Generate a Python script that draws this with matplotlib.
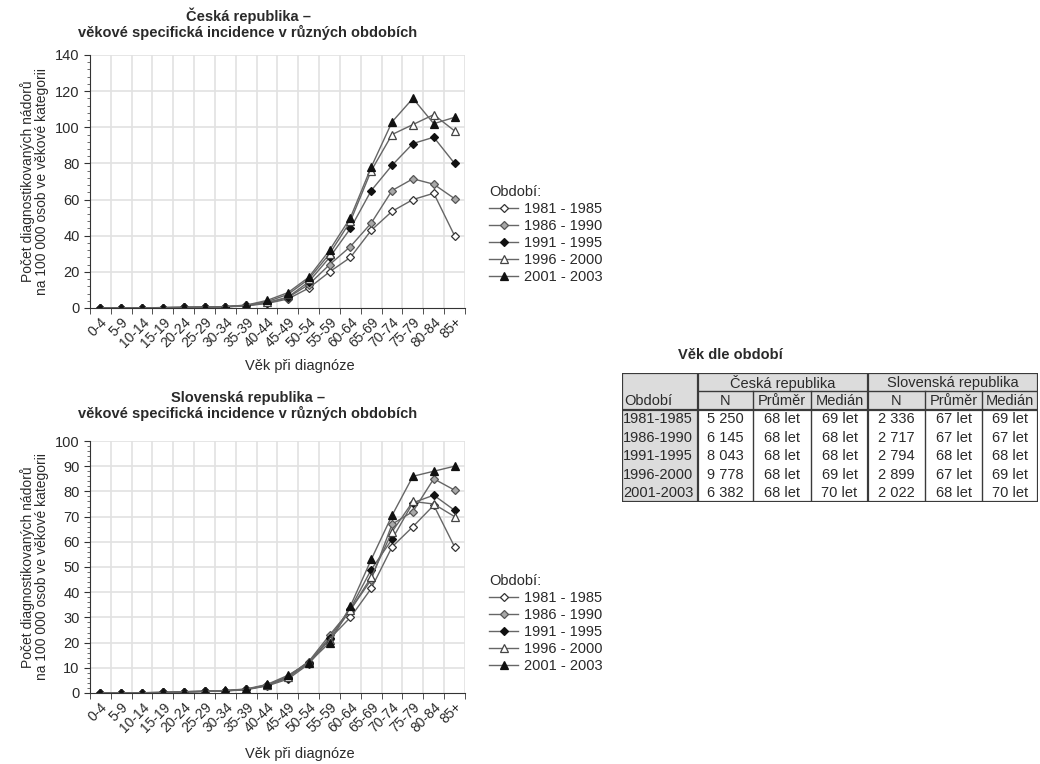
import matplotlib
matplotlib.use('Agg')
import matplotlib.pyplot as plt
from matplotlib.patches import Rectangle
import numpy as np

plt.rcParams['font.family'] = ['Liberation Sans', 'DejaVu Sans']

ages = ['0-4', '5-9', '10-14', '15-19', '20-24', '25-29', '30-34', '35-39', '40-44',
        '45-49', '50-54', '55-59', '60-64', '65-69', '70-74', '75-79', '80-84', '85+']
periods = ['1981 - 1985', '1986 - 1990', '1991 - 1995', '1996 - 2000', '2001 - 2003']

# Česká republika
cz_1981 = [0.1, 0.1, 0.1, 0.2, 0.3, 0.4, 0.6, 1.2, 2.5, 5.0, 11.0, 20.0, 28.0, 43.0, 53.5, 60.0, 63.5, 40.0]
cz_1986 = [0.1, 0.1, 0.1, 0.2, 0.3, 0.5, 0.7, 1.3, 2.8, 5.8, 13.0, 24.0, 34.0, 47.0, 65.0, 71.5, 68.5, 60.5]
cz_1991 = [0.1, 0.1, 0.1, 0.2, 0.3, 0.5, 0.7, 1.4, 3.0, 6.0, 14.5, 28.0, 44.0, 65.0, 79.0, 91.0, 94.5, 80.0]
cz_1996 = [0.1, 0.1, 0.1, 0.2, 0.3, 0.5, 0.8, 1.5, 3.5, 7.5, 16.0, 30.0, 48.0, 76.0, 96.0, 101.5, 107.0, 98.0]
cz_2001 = [0.1, 0.1, 0.1, 0.2, 0.4, 0.5, 0.8, 1.6, 4.2, 8.5, 17.0, 32.0, 50.0, 78.0, 103.0, 116.0, 102.0, 105.5]

# Slovenská republika
sk_1981 = [0.1, 0.1, 0.1, 0.2, 0.4, 0.6, 0.8, 1.3, 2.8, 5.5, 11.5, 21.5, 30.0, 41.5, 58.0, 66.0, 74.5, 58.0]
sk_1986 = [0.1, 0.1, 0.1, 0.2, 0.5, 0.7, 0.9, 1.5, 3.0, 6.5, 12.5, 23.0, 33.0, 45.0, 67.0, 72.0, 85.0, 80.5]
sk_1991 = [0.1, 0.1, 0.1, 0.2, 0.5, 0.7, 0.9, 1.4, 3.0, 6.0, 12.0, 22.0, 33.5, 49.0, 61.0, 75.5, 78.5, 72.5]
sk_1996 = [0.1, 0.1, 0.1, 0.2, 0.4, 0.6, 0.9, 1.4, 3.2, 6.5, 12.5, 21.0, 33.0, 46.0, 64.0, 76.0, 75.0, 70.0]
sk_2001 = [0.1, 0.1, 0.1, 0.2, 0.5, 0.7, 1.0, 1.6, 3.4, 7.0, 12.0, 20.0, 34.5, 53.0, 70.5, 86.0, 88.0, 90.0]

cz_series = [cz_1981, cz_1986, cz_1991, cz_1996, cz_2001]
sk_series = [sk_1981, sk_1986, sk_1991, sk_1996, sk_2001]

# table data
tab_periods = ['1981-1985', '1986-1990', '1991-1995', '1996-2000', '2001-2003']
cz_n = ['5 250', '6 145', '8 043', '9 778', '6 382']
cz_mean = ['68 let', '68 let', '68 let', '68 let', '68 let']
cz_median = ['69 let', '68 let', '68 let', '69 let', '70 let']
sk_n = ['2 336', '2 717', '2 794', '2 899', '2 022']
sk_mean = ['67 let', '67 let', '68 let', '67 let', '68 let']
sk_median = ['69 let', '67 let', '68 let', '69 let', '70 let']

styles = [
    dict(marker='D', ms=4.5, mfc='white', mec='#333333'),
    dict(marker='D', ms=4.5, mfc='#a8a8a8', mec='#555555'),
    dict(marker='D', ms=4.5, mfc='#111111', mec='#111111'),
    dict(marker='^', ms=5.5, mfc='white', mec='#444444'),
    dict(marker='^', ms=5.5, mfc='#111111', mec='#111111'),
]
line_col = '#666666'
txt = '#2a2a2a'

W, H = 1040, 764
fig = plt.figure(figsize=(W / 100, H / 100), dpi=100)


def px(l, t, r, b):
    return [l / W, 1 - b / H, (r - l) / W, (b - t) / H]


def draw_chart(box, series, ymax, ystep, yminor, title, title_y, xlab_y, leg_y):
    ax = fig.add_axes(px(*box))
    x = np.arange(len(ages))
    for s, st, lab in zip(series, styles, periods):
        ax.plot(x, s, color=line_col, lw=1.0, mew=0.9, label=lab, **st)
    ax.set_xlim(-0.5, len(ages) - 0.5)
    ax.set_ylim(0, ymax)
    ax.set_yticks(np.arange(0, ymax + 1, ystep))
    ax.set_yticks(np.arange(0, ymax + 0.01, yminor), minor=True)
    ax.set_xticks(x)
    ax.set_xticklabels(ages, rotation=45, ha='right', rotation_mode='anchor', fontsize=10, color=txt)
    ax.set_xticks(np.arange(-0.5, len(ages)), minor=True)
    ax.tick_params(axis='x', which='major', length=0, pad=5)
    ax.tick_params(axis='x', which='minor', length=4, color='#333333')
    ax.tick_params(axis='y', which='major', length=4, labelsize=10.5, labelcolor=txt, color='#333333')
    ax.tick_params(axis='y', which='minor', length=2, color='#555555')
    ax.grid(False)
    for v in np.arange(-0.5, len(ages)):
        ax.axvline(v, color='#e2e2e2', lw=1.2, zorder=0)
    for v in np.arange(ystep, ymax + 1, ystep):
        ax.axhline(v, color='#e2e2e2', lw=1.2, zorder=0)
    for sp in ['top', 'right']:
        ax.spines[sp].set_visible(False)
    for sp in ['left', 'bottom']:
        ax.spines[sp].set_color('#333333')
    ax.set_ylabel('Počet diagnostikovaných nádorů\nna 100 000 osob ve věkové kategorii',
                  fontsize=10, color=txt, labelpad=4, linespacing=1.0)
    fig.text(248 / W, 1 - title_y / H, title, ha='center', va='top', fontsize=10.5,
             fontweight='bold', color=txt, linespacing=1.1)
    fig.text(300 / W, 1 - xlab_y / H, 'Věk při diagnóze', ha='center', va='center',
             fontsize=10.5, color=txt)
    leg = ax.legend(title='Období:', loc='upper left', bbox_to_anchor=(482 / W, 1 - leg_y / H),
                    bbox_transform=fig.transFigure, frameon=False, fontsize=10.5,
                    title_fontsize=10.5, handlelength=2.0, handletextpad=0.4,
                    labelspacing=0.2, alignment='left', borderpad=0)
    plt.setp(leg.get_texts(), color=txt)
    leg.get_title().set_color(txt)
    return ax


draw_chart((90, 55, 465, 308), cz_series, 140, 20, 4,
           'Česká republika –\nvěkové specifická incidence v různých obdobích', 7, 366, 178)
draw_chart((90, 441, 465, 693), sk_series, 100, 10, 2,
           'Slovenská republika –\nvěkové specifická incidence v různých obdobích', 391, 754, 567)

# table
tl, tt, tr, tb = 622, 373, 1038, 502
tax = fig.add_axes(px(tl, tt, tr, tb))
tax.set_xlim(0, tr - tl)
tax.set_ylim(tb - tt, 0)
tax.axis('off')
col_edges = [0, 76, 131, 189, 246, 303, 360, 416]
h1, h2 = 18, 36.5
row_h = (tb - tt - h2) / len(tab_periods)
gray = '#dcdcdc'
edge = '#3a3a3a'
fs = 10.5

tax.add_patch(Rectangle((0, 0), col_edges[-1], h2, fc=gray, ec='none'))
tax.add_patch(Rectangle((0, h2), col_edges[1], tb - tt - h2, fc=gray, ec='none'))

# header row 1
for i, name in enumerate(['Česká republika', 'Slovenská republika']):
    a, b = col_edges[1 + 3 * i], col_edges[4 + 3 * i]
    tax.text((a + b) / 2, h1 / 2 + 0.5, name, ha='center', va='center', fontsize=fs, color=txt)
# header row 2
tax.text(2, (h1 + h2) / 2 + 0.5, 'Období', ha='left', va='center', fontsize=fs, color=txt)
for j, name in enumerate(['N', 'Průměr', 'Medián'] * 2):
    a, b = col_edges[1 + j], col_edges[2 + j]
    tax.text((a + b) / 2, (h1 + h2) / 2 + 0.5, name, ha='center', va='center', fontsize=fs, color=txt)

cols = [cz_n, cz_mean, cz_median, sk_n, sk_mean, sk_median]
for r, per in enumerate(tab_periods):
    yc = h2 + row_h * (r + 0.5) + 0.5
    tax.text(1, yc, per, ha='left', va='center', fontsize=fs, color=txt)
    for j, col in enumerate(cols):
        a, b = col_edges[1 + j], col_edges[2 + j]
        tax.text((a + b) / 2, yc, col[r], ha='center', va='center', fontsize=fs, color=txt)

# borders
lw_thick = 1.6
tax.add_patch(Rectangle((0, 0), col_edges[-1], tb - tt, fc='none', ec=edge, lw=lw_thick))
tax.plot([col_edges[1], col_edges[-1]], [h1, h1], color=edge, lw=1.0)
tax.plot([0, col_edges[-1]], [h2, h2], color=edge, lw=lw_thick)
for k, xe in enumerate(col_edges[1:-1]):
    top = 0 if k in (0, 3) else h1
    tax.plot([xe, xe], [top, tb - tt], color=edge, lw=lw_thick if k in (0, 3) else 1.0)

fig.text(730 / W, 1 - 355 / H, 'Věk dle období', ha='center', va='center', fontsize=10.5,
         fontweight='bold', color=txt)

fig.savefig('out.png', dpi=100, facecolor='white')
